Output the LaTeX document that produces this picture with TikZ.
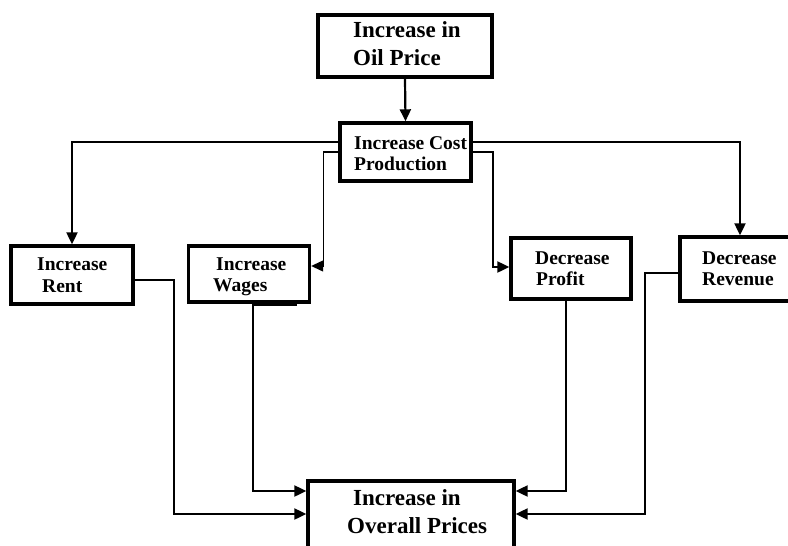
\documentclass[tikz,border=0pt]{standalone}
\usepackage{fontspec}
\setmainfont{Liberation Serif}
\usetikzlibrary{arrows.meta}
\begin{document}
\begin{tikzpicture}[x=1pt,y=-1pt,
  box/.style={draw, line width=3.4pt, rectangle, inner sep=0pt},
  conn/.style={line width=2.2pt, -{Triangle[length=12pt,width=11pt]}},
  thinconn/.style={line width=1.2pt, -{Triangle[length=12pt,width=11pt]}},
  big/.style={anchor=base west, inner sep=0pt, font=\fontsize{23}{28}\selectfont\bfseries},
  small/.style={anchor=base west, inner sep=0pt, font=\fontsize{19.5}{22}\selectfont\bfseries}]
\useasboundingbox (0,0) rectangle (788,546);
\fill[white] (0,0) rectangle (788,546);
% boxes
\node[box, minimum width=174pt, minimum height=62pt] (top) at (405,46) {};
\node[box, minimum width=131pt, minimum height=58pt] (cost) at (405.5,152) {};
\node[box, minimum width=122pt, minimum height=58pt] (rent) at (72,275) {};
\node[box, minimum width=121pt, minimum height=56pt] (wages) at (249,274) {};
\node[box, minimum width=120pt, minimum height=61pt] (profit) at (571,268.5) {};
\node[box, minimum width=120pt, minimum height=64pt] (revenue) at (740,269) {};
\node[box, minimum width=206pt, minimum height=79pt] (overall) at (411,520.5) {};
% texts
\node[big] (t1) at (353,37) {Increase in};
\node[big] (t2) at (353,65) {Oil Price};
\node[small] (c1) at (354,149) {Increase Cost};
\node[small] (c2) at (354,170) {Production};
\node[small] (r1) at (37,270) {Increase};
\node[small] (r2) at (42,292) {Rent};
\node[small] (w1) at (216,270) {Increase};
\node[small] (w2) at (213,291) {Wages};
\node[small] (p1) at (535,264) {Decrease};
\node[small] (p2) at (536,285) {Profit};
\node[small] (v1) at (702,264) {Decrease};
\node[small] (v2) at (702,285) {Revenue};
\node[big] (o1) at (353,505) {Increase in};
\node[big] (o2) at (347,533) {Overall Prices};
% helper coordinates
\coordinate (yA) at (0,142);
\coordinate (yB) at (0,152);
\coordinate (yW) at (0,266);
\coordinate (yP) at (0,267);
\coordinate (yR) at (0,280);
\coordinate (yV) at (0,273);
\coordinate (yO1) at (0,491);
\coordinate (yO2) at (0,514);
\coordinate (xW) at (253,0);
\coordinate (xP) at (566,0);
% connectors
\draw[conn] (top.south) -- (cost.north);
\draw[conn] (cost.west |- yA) -| (rent.north);
\draw[conn] (cost.east |- yA) -| (revenue.north);
\draw[thinconn] (cost.west |- yB) -- ++(-15,0) |- (wages.east |- yW);
\draw[conn] (cost.east |- yB) -- ++(20,0) |- (profit.west |- yP);
\draw[conn] (rent.east |- yR) -- ++(39,0) |- (overall.west |- yO2);
\draw[conn] (wages.south -| xW) |- (overall.west |- yO1);
\draw[line width=4.5pt] (wages.south -| xW) -- ++(44,0);
\draw[conn] (profit.south -| xP) |- (overall.east |- yO1);
\draw[conn] (revenue.west |- yV) -- ++(-33,0) |- (overall.east |- yO2);
\end{tikzpicture}
\end{document}
